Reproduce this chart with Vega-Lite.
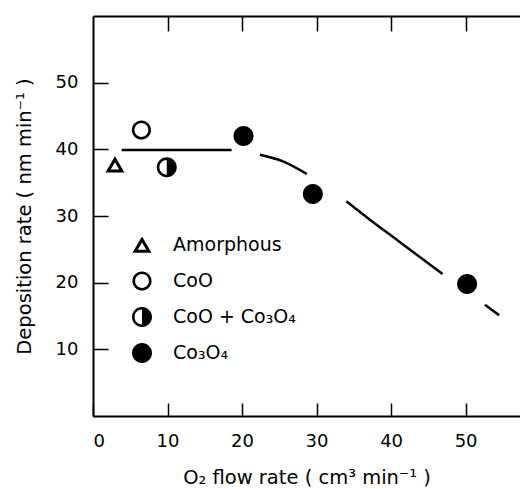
{
  "$schema": "https://vega.github.io/schema/vega-lite/v6.json",
  "autosize": {"type": "none"},
  "width": 427,
  "height": 400,
  "padding": {"left": 93, "top": 16, "right": 0, "bottom": 73},
  "background": "white",
  "config": {
    "view": {"stroke": null},
    "font": "DejaVu Sans",
    "axis": {
      "grid": false,
      "domainColor": "black",
      "domainWidth": 2,
      "tickColor": "black",
      "tickWidth": 1.5,
      "labelFont": "DejaVu Sans",
      "labelFontSize": 18,
      "labelColor": "black",
      "titleFont": "DejaVu Sans",
      "titleFontSize": 19.5,
      "titleFontWeight": "normal",
      "titleColor": "black"
    }
  },
  "datasets": {
    "pts": [
      {"x": 2.95, "y": 37.7, "phase": "Amorphous"},
      {"x": 6.5, "y": 42.9, "phase": "CoO"},
      {"x": 9.9, "y": 37.3, "phase": "CoO + Co₃O₄"},
      {"x": 20.2, "y": 42.0, "phase": "Co₃O₄"},
      {"x": 29.5, "y": 33.3, "phase": "Co₃O₄"},
      {"x": 50.2, "y": 19.8, "phase": "Co₃O₄"}
    ],
    "curve": [
      {"seg": 1, "x": 3.85, "y": 39.9},
      {"seg": 1, "x": 18.6, "y": 39.9},
      {"seg": 2, "x": 22.4, "y": 39.2},
      {"seg": 2, "x": 25.5, "y": 38.2},
      {"seg": 2, "x": 28.7, "y": 36.3},
      {"seg": 3, "x": 34.0, "y": 32.2},
      {"seg": 3, "x": 37.2, "y": 29.4},
      {"seg": 3, "x": 40.8, "y": 26.4},
      {"seg": 3, "x": 46.9, "y": 21.3},
      {"seg": 4, "x": 52.6, "y": 16.7},
      {"seg": 4, "x": 54.5, "y": 15.1}
    ]
  },
  "resolve": {"axis": {"x": "independent"}},
  "layer": [
    {
      "data": {"name": "curve"},
      "mark": {"type": "line", "color": "black", "strokeWidth": 2.5, "interpolate": "monotone"},
      "encoding": {
        "x": {
          "field": "x", "type": "quantitative",
          "scale": {"domain": [0, 57.3], "nice": false, "zero": false},
          "axis": {"orient": "bottom", "values": [0, 10, 20, 30, 40, 50], "tickSize": -13, "labelPadding": 29, "title": "O₂ flow rate ( cm³ min⁻¹ )", "titlePadding": 18}
        },
        "y": {
          "field": "y", "type": "quantitative",
          "scale": {"domain": [0, 60], "nice": false},
          "axis": {"values": [10, 20, 30, 40, 50], "tickSize": -15, "labelPadding": 30, "title": "Deposition rate ( nm min⁻¹ )", "titlePadding": 21}
        },
        "detail": {"field": "seg", "type": "nominal"}
      }
    },
    {
      "data": {"name": "pts"},
      "mark": {"type": "point", "filled": true, "fill": "black", "strokeWidth": 0, "size": 400, "opacity": 1},
      "encoding": {
        "x": {
          "field": "x", "type": "quantitative",
          "axis": {"orient": "top", "values": [10, 20, 30, 40, 50], "tickSize": -15, "labels": false, "title": null}
        },
        "y": {
          "field": "y", "type": "quantitative",
          "axis": {"values": [10, 20, 30, 40, 50], "tickSize": -15, "labelPadding": 30, "title": "Deposition rate ( nm min⁻¹ )", "titlePadding": 21}
        },
        "shape": {
          "field": "phase", "type": "nominal",
          "scale": {
            "domain": ["Amorphous", "CoO", "CoO + Co₃O₄", "Co₃O₄"],
            "range": [
              "M0,-0.85L0.95,0.78L-0.95,0.78ZM0,-0.25L-0.425,0.48L0.425,0.48Z",
              "M0,-0.96A0.96,0.96,0,0,1,0,0.96A0.96,0.96,0,0,1,0,-0.96ZM0,-0.69A0.69,0.69,0,0,0,0,0.69A0.69,0.69,0,0,0,0,-0.69Z",
              "M0,-1A1,1,0,0,1,0,1A1,1,0,0,1,0,-1ZM0,-0.74A0.74,0.74,0,0,0,0,0.74Z",
              "M0,-1A1,1,0,0,1,0,1A1,1,0,0,1,0,-1Z"
            ]
          },
          "legend": {
            "orient": "none", "legendX": 39, "legendY": 219, "title": null,
            "labelFont": "DejaVu Sans", "labelFontSize": 19, "labelColor": "black",
            "symbolSize": 400, "symbolFillColor": "black", "symbolStrokeWidth": 0, "symbolOpacity": 1,
            "rowPadding": 16, "labelOffset": 21, "padding": 0
          }
        }
      }
    }
  ]
}
